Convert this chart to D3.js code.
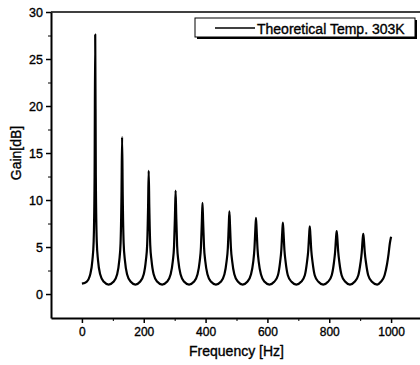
<!DOCTYPE html>
<html>
<head>
<meta charset="utf-8">
<title>Gain vs frequency</title>
<script src="https://cdn.jsdelivr.net/npm/d3@7"></script>
<style>
  body { margin: 0; background: #fff; }
  text { font-family: Arial, "Liberation Sans", sans-serif; fill: #000; stroke: #000; stroke-width: 0.35px; }
  .axis path, .axis line { stroke: #000; }
</style>
</head>
<body>
<svg id="chart" width="420" height="365"></svg>
<script>
// values, frequency in Hz and gain in dB
var freqHz = [0, 15, 27, 34, 38, 41, 43, 45, 48, 52, 59, 71,
  86.5, 102, 114, 121, 125, 128, 130, 132, 135, 139, 146, 158,
  173, 188, 200, 207, 211, 214, 216, 218, 221, 225, 232, 244,
  259.5, 275, 287, 294, 298, 301, 303, 305, 308, 312, 319, 331,
  346.5, 362, 374, 381, 385, 388, 390, 392, 395, 399, 406, 418,
  433.5, 449, 461, 468, 472, 475, 477, 479, 482, 486, 493, 505,
  520, 535, 547, 554, 558, 561, 563, 565, 568, 572, 579, 591,
  606.5, 622, 634, 641, 645, 648, 650, 652, 655, 659, 666, 678,
  693.5, 709, 721, 728, 732, 735, 737, 739, 742, 746, 753, 765,
  780.5, 796, 808, 815, 819, 822, 824, 826, 829, 833, 840, 852,
  867, 882, 894, 901, 905, 908, 910, 912, 915, 919, 926, 938,
  955, 967, 979, 987, 992, 996, 1000];
var gainDb = [1.1, 1.3, 2.1, 3.6, 5.6, 12.5, 27.6, 12.5, 5.6, 3.6, 2.1, 1.3,
  1.0, 1.3, 2.1, 3.6, 5.4, 10.5, 16.7, 10.5, 5.4, 3.6, 2.1, 1.3,
  1.0, 1.3, 2.1, 3.6, 5.2, 9.2, 13.1, 9.2, 5.2, 3.6, 2.1, 1.3,
  1.0, 1.3, 2.1, 3.5, 5.1, 8.4, 11.0, 8.4, 5.1, 3.5, 2.1, 1.3,
  1.0, 1.3, 2.1, 3.5, 5.0, 7.8, 9.7, 7.8, 5.0, 3.5, 2.1, 1.3,
  1.0, 1.3, 2.1, 3.5, 4.9, 7.3, 8.8, 7.3, 4.9, 3.5, 2.1, 1.3,
  1.0, 1.3, 2.1, 3.4, 4.8, 6.9, 8.1, 6.9, 4.8, 3.4, 2.1, 1.3,
  1.0, 1.3, 2.0, 3.4, 4.7, 6.6, 7.6, 6.6, 4.7, 3.4, 2.0, 1.3,
  1.0, 1.3, 2.0, 3.4, 4.6, 6.3, 7.2, 6.3, 4.6, 3.4, 2.0, 1.3,
  1.0, 1.3, 2.0, 3.3, 4.5, 6.0, 6.7, 6.0, 4.5, 3.3, 2.0, 1.3,
  1.0, 1.3, 2.0, 3.3, 4.4, 5.8, 6.4, 5.8, 4.4, 3.3, 2.0, 1.3,
  1.0, 1.3, 2.0, 3.2, 4.3, 5.4, 6.1];
var xTicks = [0, 200, 400, 600, 800, 1000];
var xMinor = [100, 300, 500, 700, 900];
var yTicks = [0, 5, 10, 15, 20, 25, 30];
var yMinor = [2.5, 7.5, 12.5, 17.5, 22.5, 27.5];
var seriesName = "Theoretical Temp. 303K";

var svg = d3.select("#chart");
var padL = 51, padR = 422, padT = 12, padB = 318;

var x = d3.scaleLinear().domain([-100, 1100]).range([padL, padR]);
var y = d3.scaleLinear().domain([-2.55, 30]).range([padB, padT]);

// minor ticks first, then the major axes on top
svg.append("g").attr("class", "axis")
  .attr("transform", "translate(0," + padB + ")")
  .call(d3.axisBottom(x).tickValues(xMinor).tickSize(3).tickFormat(""))
  .select(".domain").remove();
svg.append("g").attr("class", "axis")
  .attr("transform", "translate(" + padL + ",0)")
  .call(d3.axisLeft(y).tickValues(yMinor).tickSize(3).tickFormat(""))
  .select(".domain").remove();

var xAxis = svg.append("g").attr("class", "axis")
  .attr("transform", "translate(0," + padB + ")")
  .call(d3.axisBottom(x).tickValues(xTicks).tickSize(5).tickSizeOuter(0)
    .tickPadding(4).tickFormat(d3.format("d")));
xAxis.select(".domain").attr("stroke-width", 2);
xAxis.selectAll("line").attr("stroke-width", 1.5);
xAxis.selectAll("text").attr("font-size", 12).attr("font-family", "Arial, 'Liberation Sans', sans-serif");

var yAxis = svg.append("g").attr("class", "axis")
  .attr("transform", "translate(" + padL + ",0)")
  .call(d3.axisLeft(y).tickValues(yTicks).tickSize(5).tickSizeOuter(0)
    .tickPadding(3).tickFormat(d3.format("d")));
yAxis.select(".domain").attr("stroke-width", 2);
yAxis.selectAll("line").attr("stroke-width", 1.5);
yAxis.selectAll("text").attr("font-size", 12.5).attr("font-family", "Arial, 'Liberation Sans', sans-serif");

// top frame line
svg.append("line")
  .attr("x1", padL).attr("x2", padR).attr("y1", padT).attr("y2", padT)
  .attr("stroke", "#000").attr("stroke-width", 1.5);

// curve
var pts = freqHz.map(function (f, i) { return [f, gainDb[i]]; });
var line = d3.line()
  .x(function (d) { return x(d[0]); })
  .y(function (d) { return y(d[1]); })
  .curve(d3.curveMonotoneX);
svg.append("path")
  .datum(pts)
  .attr("d", line)
  .attr("fill", "none")
  .attr("stroke", "#000")
  .attr("stroke-width", 2.2)
  .attr("stroke-linejoin", "round");

// axis titles
svg.append("text")
  .attr("x", (padL + padR) / 2).attr("y", 356)
  .attr("text-anchor", "middle").attr("font-size", 14)
  .text("Frequency [Hz]");
svg.append("text")
  .attr("transform", "translate(21,153) rotate(-90)")
  .attr("text-anchor", "middle").attr("font-size", 14)
  .text("Gain[dB]");

// legend with drop shadow
var lg = svg.append("g");
lg.append("rect").attr("x", 197).attr("y", 20).attr("width", 220).attr("height", 19).attr("fill", "#000");
lg.append("rect").attr("x", 195).attr("y", 18).attr("width", 220).attr("height", 19)
  .attr("fill", "#fff").attr("stroke", "#000").attr("stroke-width", 1);
lg.append("line").attr("x1", 215).attr("x2", 255).attr("y1", 28).attr("y2", 28)
  .attr("stroke", "#000").attr("stroke-width", 1.5);
lg.append("text").attr("x", 257).attr("y", 33.5).attr("font-size", 14)
  .text(seriesName);
</script>
</body>
</html>
